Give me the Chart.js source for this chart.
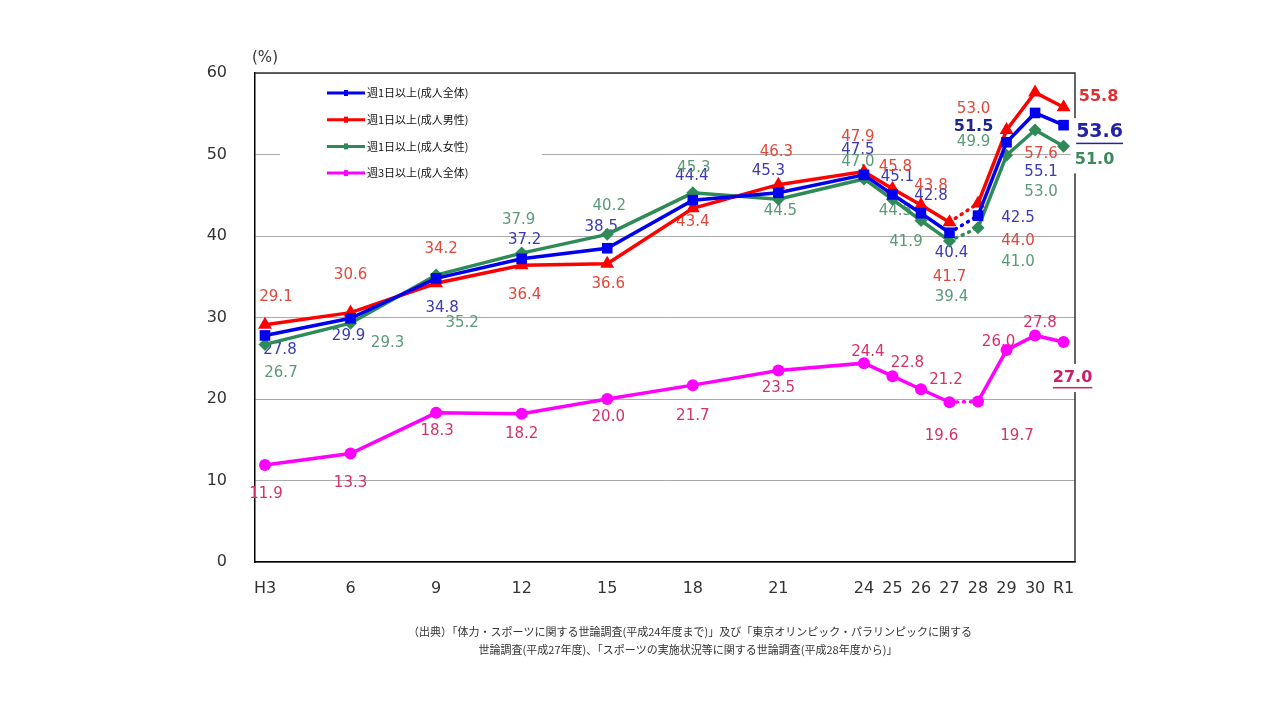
<!DOCTYPE html>
<html lang="ja">
<head>
<meta charset="utf-8">
<script src="https://cdn.jsdelivr.net/npm/chart.js@4/dist/chart.umd.min.js"></script>
<style>
  html, body { margin: 0; background: #fff; }
</style>
</head>
<body>
<canvas id="myChart" width="1280" height="720"></canvas>
<script>
(() => {
  'use strict'

  // 年度（平成）: R1 = 31
  const years = [3, 6, 9, 12, 15, 18, 21, 24, 25, 26, 27, 28, 29, 30, 31]
  const yearLabels = ['H3', '6', '9', '12', '15', '18', '21', '24', '25', '26', '27', '28', '29', '30', 'R1']

  const seriesNames = [
    '週1日以上(成人全体)',
    '週1日以上(成人男性)',
    '週1日以上(成人女性)',
    '週3日以上(成人全体)'
  ]
  const weekly1All = [27.8, 29.9, 34.8, 37.2, 38.5, 44.4, 45.3, 47.5, 45.1, 42.8, 40.4, 42.5, 51.5, 55.1, 53.6]
  const weekly1Men = [29.1, 30.6, 34.2, 36.4, 36.6, 43.4, 46.3, 47.9, 45.8, 43.8, 41.7, 44.0, 53.0, 57.6, 55.8]
  const weekly1Women = [26.7, 29.3, 35.2, 37.9, 40.2, 45.3, 44.5, 47.0, 44.5, 41.9, 39.4, 41.0, 49.9, 53.0, 51.0]
  const weekly3All = [11.9, 13.3, 18.3, 18.2, 20.0, 21.7, 23.5, 24.4, 22.8, 21.2, 19.6, 19.7, 26.0, 27.8, 27.0]

  const yTicks = [0, 10, 20, 30, 40, 50, 60]

  // ラベル位置（点からのずれ, px）
  const labelOffsets = [
    [[15, 15], [-2, 18], [6, 30], [3, -19], [-6, -21], [-1, -24], [-10, -22], [-6, -25], [5, -17], [10, -17], [2, 20], [40, 2], [-33, -15], [6, 59], [36, 7]],
    [[11, -28], [0, -38], [5, -34], [3, 30], [1, 20], [0, 14], [-2, -33], [-6, -35], [3, -22], [10, -19], [0, 55], [40, 38], [-33, -21], [6, 62], [35, -10]],
    [[16, 29], [37, 20], [26, 48], [-3, -33], [2, -28], [1, -25], [2, 12], [-6, -17], [3, 12], [-15, 22], [2, 56], [40, 34], [-33, -13], [6, 62], [31, 13]],
    [[1, 29], [0, 30], [1, 18], [0, 20], [1, 18], [0, 31], [0, 18], [4, -11], [15, -13], [25, -9], [-8, 34], [39, 35], [-8, -8], [5, -12], [9, 36]]
  ]

  const lineColors = ['#0000ee', '#ff0000', '#2e8b57', '#ff00ff']
  const labelColors = ['#3a3ab4', '#e0483c', '#5a9a78', '#d6306c']
  const pointStyles = ['rect', 'triangle', 'rectRot', 'circle']
  const pointSizes = [7.5, 8, 6.5, 6]

  // 太字ラベル
  const boldLabels = {
    '0-12': { size: 16, color: '#22228c' },
    '0-14': { size: 19, color: '#2222a8', underline: true, box: true },
    '1-14': { size: 16, color: '#e03030' },
    '2-14': { size: 16, color: '#3a8a5a', box: true },
    '3-14': { size: 16, color: '#c8206a', underline: true, box: true }
  }

  const allSeries = [weekly1All, weekly1Men, weekly1Women, weekly3All]

  const datasets = allSeries.map((vals, i) => ({
    label: seriesNames[i],
    data: vals.map((v, j) => ({ x: years[j], y: v })),
    borderColor: lineColors[i],
    backgroundColor: lineColors[i],
    borderWidth: 3.5,
    pointStyle: pointStyles[i],
    pointRadius: pointSizes[i],
    pointHoverRadius: pointSizes[i],
    pointBorderWidth: 0,
    tension: 0,
    segment: {
      // 調査方法の変更（H27→H28）は点線
      borderDash: ctx => (ctx.p0DataIndex === 10 ? [1, 6] : undefined),
      borderCapStyle: ctx => (ctx.p0DataIndex === 10 ? 'round' : 'butt')
    }
  }))

  const overlay = {
    id: 'overlay',
    beforeDatasetsDraw(chart) {
      const { ctx, chartArea: a } = chart
      ctx.save()

      // 上・右の枠
      ctx.strokeStyle = '#333'
      ctx.lineWidth = 1.5
      ctx.beginPath()
      ctx.moveTo(a.left, a.top)
      ctx.lineTo(a.right, a.top)
      ctx.lineTo(a.right, a.bottom)
      ctx.stroke()

      // (%)
      ctx.fillStyle = '#333'
      ctx.font = '15px "DejaVu Sans"'
      ctx.textAlign = 'center'
      ctx.textBaseline = 'middle'
      ctx.fillText('(%)', a.left + 10, a.top - 15)

      // 凡例
      ctx.fillStyle = '#fff'
      ctx.fillRect(a.left + 25, a.top + 8, 262, 108)
      seriesNames.forEach((name, i) => {
        const y = a.top + 20 + i * 26.7
        const x0 = a.left + 72
        ctx.strokeStyle = lineColors[i]
        ctx.lineWidth = 3
        ctx.beginPath()
        ctx.moveTo(x0, y)
        ctx.lineTo(x0 + 38, y)
        ctx.stroke()
        ctx.fillStyle = lineColors[i]
        ctx.fillRect(x0 + 17, y - 3, 4, 6)
        ctx.fillStyle = '#111'
        ctx.font = '11px "Noto Sans CJK JP"'
        ctx.textAlign = 'left'
        ctx.fillText(name, x0 + 40, y)
      })

      // データラベル
      chart.data.datasets.forEach((ds, i) => {
        const meta = chart.getDatasetMeta(i)
        meta.data.forEach((pt, j) => {
          const [dx, dy] = labelOffsets[i][j]
          const bold = boldLabels[i + '-' + j]
          const text = ds.data[j].y.toFixed(1)
          const x = pt.x + dx
          const y = pt.y + dy
          ctx.font = bold ? 'bold ' + bold.size + 'px "DejaVu Sans"' : '15px "DejaVu Sans"'
          ctx.textAlign = 'center'
          ctx.textBaseline = 'middle'
          const w = ctx.measureText(text).width
          if (bold && bold.box) {
            ctx.fillStyle = '#fff'
            ctx.fillRect(x - w / 2 - 4, y - 14, w + 8, 28)
          }
          ctx.fillStyle = bold ? bold.color : labelColors[i]
          ctx.fillText(text, x, y)
          if (bold && bold.underline) {
            ctx.fillRect(x - w / 2, y + bold.size / 2 + 1, w, 1.5)
          }
        })
      })

      ctx.restore()
    },
    afterDraw(chart) {
      const { ctx } = chart
      ctx.save()
      ctx.fillStyle = '#333'
      ctx.font = '11px "Noto Sans CJK JP"'
      ctx.textAlign = 'center'
      ctx.textBaseline = 'middle'
      ctx.fillText('（出典）「体力・スポーツに関する世論調査(平成24年度まで)」及び「東京オリンピック・パラリンピックに関する', 690, 632)
      ctx.fillText('世論調査(平成27年度)、「スポーツの実施状況等に関する世論調査(平成28年度から)」', 688, 650)
      ctx.restore()
    }
  }

  const myChart = new Chart(document.getElementById('myChart'), {
    type: 'line',
    data: { datasets },
    plugins: [overlay],
    options: {
      responsive: false,
      animation: false,
      events: [],
      layout: { padding: { top: 73, right: 205, bottom: 0, left: 0 } },
      plugins: {
        legend: { display: false },
        tooltip: { enabled: false }
      },
      scales: {
        x: {
          type: 'linear',
          min: 2.65,
          max: 31.4,
          afterBuildTicks: scale => { scale.ticks = years.map(v => ({ value: v })) },
          afterFit: scale => { scale.height = 158 },
          ticks: {
            autoSkip: false,
            maxRotation: 0,
            padding: 17,
            color: '#333',
            font: { family: 'DejaVu Sans', size: 16 },
            callback: (v, idx) => yearLabels[idx]
          },
          grid: { drawOnChartArea: false, drawTicks: false },
          border: { color: '#000', width: 1.5 }
        },
        y: {
          min: 0,
          max: 60,
          afterBuildTicks: scale => { scale.ticks = yTicks.map(v => ({ value: v })) },
          afterFit: scale => { scale.width = 255 },
          ticks: {
            padding: 28,
            color: '#333',
            font: { family: 'DejaVu Sans', size: 16 }
          },
          grid: { color: '#aaa', lineWidth: 1, drawTicks: false },
          border: { color: '#000', width: 1.5 }
        }
      }
    }
  })
})()
</script>
</body>
</html>
